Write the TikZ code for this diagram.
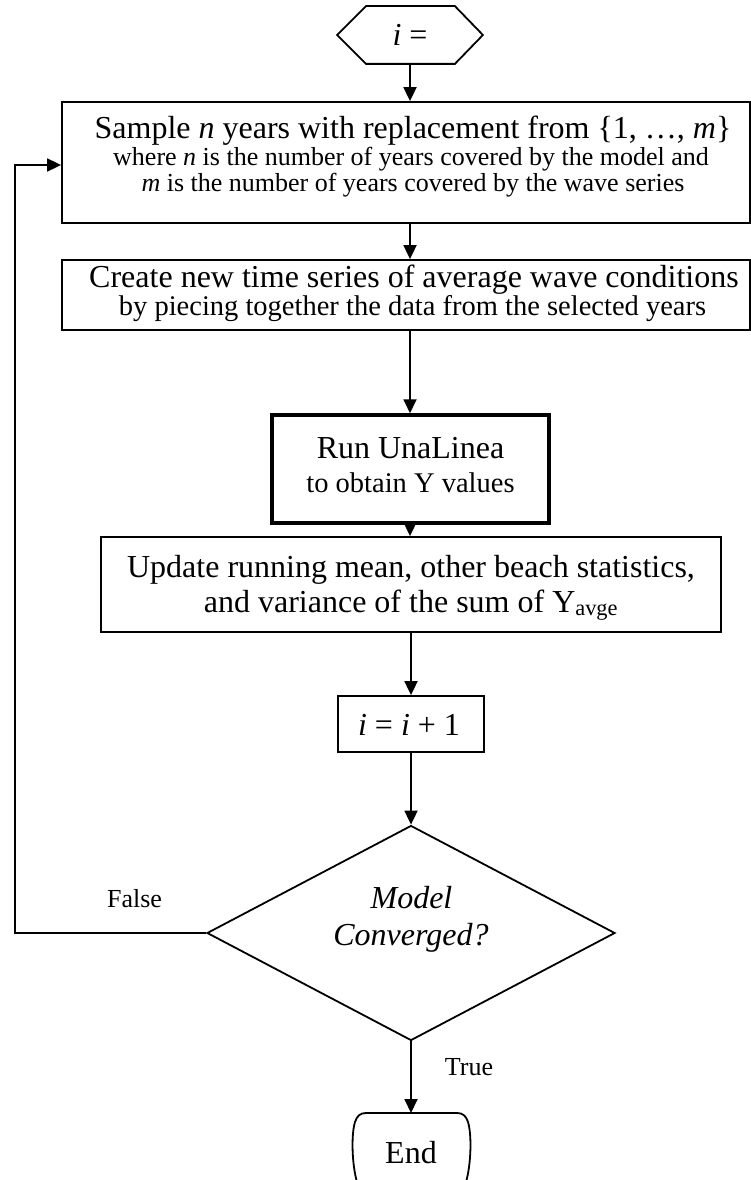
\documentclass[tikz,border=0pt]{standalone}
\usepackage{fontspec}
\setmainfont{Liberation Serif}
\usetikzlibrary{arrows.meta,shapes.geometric}
\begin{document}
\begin{tikzpicture}[x=1pt,y=-1pt,
  line width=1.8pt,
  box/.style={draw,rectangle,inner sep=0pt},
  big/.style={anchor=base,inner sep=0pt,font=\fontsize{32}{36}\selectfont},
  mid/.style={anchor=base,inner sep=0pt,font=\fontsize{28.5}{33}\selectfont},
  sml/.style={anchor=base,inner sep=0pt,font=\fontsize{26}{30}\selectfont},
  arr/.style={-{Triangle[length=14pt,width=13pt]}}]
\useasboundingbox (0,0) rectangle (751,1180);
% start hexagon
\node[inner sep=0pt,minimum width=144pt,minimum height=56pt] (hex) at (410,35) {};
\draw (hex.west) -- ([xshift=29pt]hex.north west) -- ([xshift=-28pt]hex.north east)
  -- (hex.east) -- ([xshift=-28pt]hex.south east) -- ([xshift=29pt]hex.south west) -- cycle;
\node[big] (hext) at (410,46) {\textit{i} =};
% box 1
\node[box,minimum width=688pt,minimum height=121pt] (b1) at (406,162.5) {};
\node[big] (b1a) at (413,139) {Sample \textit{n} years with replacement from \{1, …, \textit{m}\}};
\node[sml] (b1b) at (411,165.5) {where \textit{n} is the number of years covered by the model and};
\node[sml] (b1c) at (413,191) {\textit{m} is the number of years covered by the wave series};
% box 2
\node[box,minimum width=688pt,minimum height=70pt] (b2) at (406,295) {};
\node[big] (b2a) at (414,287) {Create new time series of average wave conditions};
\node[mid] (b2b) at (412.5,315) {by piecing together the data from the selected years};
% box 3
\node[box,line width=3.5pt,minimum width=277pt,minimum height=108pt] (b3) at (410.5,469) {};
\node[big] (b3a) at (410.5,458) {Run UnaLinea};
\node[mid] (b3b) at (410.5,492) {to obtain Y values};
% box 4
\node[box,minimum width=620pt,minimum height=95pt] (b4) at (411,584.5) {};
\node[big] (b4a) at (411,577) {Update running mean, other beach statistics,};
\node[big] (b4b) at (411,612) {and variance of the sum of Y\textsubscript{avge}};
% box 5
\node[box,minimum width=146pt,minimum height=56pt] (b5) at (411,724) {};
\node[big] (b5t) at (409,735) {\textit{i} = \textit{i} + 1};
% decision
\node[draw,diamond,inner sep=0pt,minimum width=408pt,minimum height=215pt] (d) at (411,933) {};
\node[big] (da) at (411.5,908) {\textit{Model}};
\node[big] (db) at (411,945) {\textit{Converged?}};
% end terminator
\node[big] (endn) at (411,1163) {End};
\coordinate (endtop) at (411,1113);
\draw (357,1182) .. controls (352,1165) and (351,1135) .. (355,1122)
  .. controls (357,1116) and (360,1113) .. (366,1113) -- (457,1113)
  .. controls (463,1113) and (466,1116) .. (468,1122)
  .. controls (472,1135) and (471,1165) .. (466,1182);
% connectors
\draw[arr] (hex.south) -- (hex.south |- b1.north);
\draw[arr] (hex.south |- b1.south) -- (hex.south |- b2.north);
\draw[arr] (hex.south |- b2.south) -- (hex.south |- b3.north);
\draw[arr] (hex.south |- b3.south) -- (hex.south |- b4.north);
\draw[arr] (b5.north |- b4.south) -- (b5.north);
\draw[arr] (b5.south) -- (b5.south |- d.north);
\draw[arr] (d.south) -- (endtop);
\coordinate (lp) at (15,165);
\draw[arr] (d.west) -- (d.west -| lp) -- (lp) -- (lp -| b1.west);
\node[sml] (fl) at (134.5,907) {False};
\node[sml] (tl) at (469,1075) {True};
\end{tikzpicture}
\end{document}
